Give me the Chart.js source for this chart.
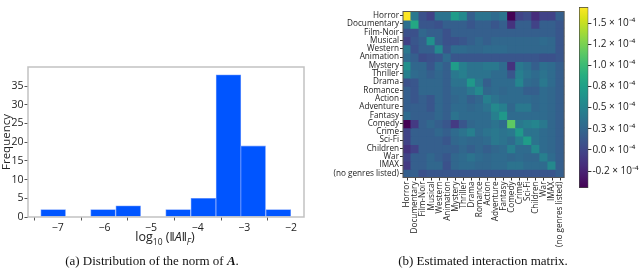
<!DOCTYPE html>
<html>
<head>
<meta charset="utf-8">
<script src="https://cdn.jsdelivr.net/npm/chart.js@4.4.1/dist/chart.umd.min.js"></script>
<style>
  body { margin: 0; width: 640px; height: 270px; position: relative; background: #fff; overflow: hidden; }
  canvas { position: absolute; }
  .cap { position: absolute; top: 253px; font-family: "Liberation Serif", serif; font-size: 13px; color: #111; white-space: nowrap; transform: translateX(-50%); }
  .xlab { position: absolute; left: 165px; top: 228px; font-family: "Open Sans", sans-serif; font-size: 12.5px; color: #222; white-space: nowrap; transform: translateX(-50%); }
  .xlab sub { font-size: 8.5px; }
</style>
</head>
<body>
<canvas id="histChart" width="310" height="250" style="left:0;top:0"></canvas>
<canvas id="heatChart" width="271" height="270" style="left:300px;top:0"></canvas>
<canvas id="cbarChart" width="68" height="200" style="left:572px;top:0"></canvas>
<div class="xlab">log<sub>10</sub> (‖<i>A</i>‖<sub><i>F</i></sub>)</div>
<div class="cap" style="left:152px">(a) Distribution of the norm of <b><i>A</i></b>.</div>
<div class="cap" style="left:483px">(b) Estimated interaction matrix.</div>
<script>
// histogram of log10 norms
const binCenters = [-7.10, -6.56, -6.03, -5.49, -4.95, -4.42, -3.88, -3.34, -2.81, -2.27];
const binCounts = [2, 0, 2, 3, 0, 2, 5, 38, 19, 2];
const histXTicks = [-7, -6, -5, -4, -3, -2];
const histYTicks = [0, 5, 10, 15, 20, 25, 30, 35];

// interaction matrix, units of 1e-4
const genres = ["Horror", "Documentary", "Film-Noir", "Musical", "Western", "Animation", "Mystery",
  "Thriller", "Drama", "Romance", "Action", "Adventure", "Fantasy", "Comedy", "Crime", "Sci-Fi",
  "Children", "War", "IMAX", "(no genres listed)"];
const interaction = [
  [1.69, 0.40, 0.08, -0.03, 0.36, 0.36, 0.72, 0.55, 0.19, 0.36, 0.36, 0.29, 0.36, -0.45, -0.03, 0.04, -0.18, -0.03, -0.03, 0.19],
  [0.33, 0.83, 0.12, 0.12, 0.08, 0.19, 0.19, 0.19, 0.12, 0.19, 0.19, 0.12, 0.19, -0.14, 0.19, 0.19, -0.03, 0.19, 0.19, 0.12],
  [0.08, 0.08, 0.25, 0.19, 0.19, 0.08, 0.19, 0.19, 0.19, 0.19, 0.19, 0.19, 0.19, 0.19, 0.19, 0.19, 0.19, 0.19, 0.19, 0.12],
  [-0.03, 0.12, 0.19, 0.61, 0.19, 0.08, 0.08, 0.12, 0.19, 0.25, 0.19, 0.25, 0.25, 0.25, 0.25, 0.25, 0.25, 0.29, 0.25, 0.12],
  [0.40, 0.08, 0.19, 0.19, 0.55, 0.12, 0.29, 0.29, 0.25, 0.25, 0.29, 0.29, 0.29, 0.25, 0.25, 0.25, 0.25, 0.25, 0.25, 0.12],
  [0.29, 0.19, 0.04, 0.08, 0.12, 0.29, 0.12, 0.12, 0.12, 0.12, 0.12, 0.12, 0.12, 0.12, 0.12, 0.12, 0.12, 0.08, 0.08, 0.12],
  [0.61, 0.25, 0.25, 0.12, 0.29, 0.19, 0.72, 0.46, 0.36, 0.36, 0.40, 0.40, 0.29, -0.14, 0.40, 0.33, 0.19, 0.33, 0.29, 0.19],
  [0.46, 0.29, 0.25, 0.19, 0.25, 0.19, 0.40, 0.46, 0.36, 0.36, 0.36, 0.29, 0.29, 0.12, 0.46, 0.36, 0.29, 0.36, 0.29, 0.19],
  [0.08, 0.12, 0.25, 0.25, 0.25, 0.19, 0.36, 0.36, 0.68, 0.40, 0.19, 0.29, 0.29, 0.29, 0.51, 0.29, 0.25, 0.40, 0.29, 0.19],
  [0.19, 0.12, 0.25, 0.25, 0.25, 0.19, 0.29, 0.29, 0.40, 0.55, 0.25, 0.29, 0.25, 0.29, 0.29, 0.19, 0.19, 0.29, 0.25, 0.19],
  [0.19, 0.12, 0.19, 0.12, 0.25, 0.19, 0.25, 0.29, 0.19, 0.25, 0.46, 0.36, 0.29, 0.29, 0.29, 0.29, 0.25, 0.29, 0.25, 0.19],
  [0.19, 0.19, 0.19, 0.12, 0.25, 0.19, 0.29, 0.29, 0.25, 0.29, 0.36, 0.55, 0.46, 0.25, 0.40, 0.40, 0.25, 0.29, 0.25, 0.19],
  [0.29, 0.19, 0.19, 0.19, 0.25, 0.19, 0.36, 0.29, 0.29, 0.29, 0.29, 0.46, 0.68, 0.29, 0.29, 0.29, 0.29, 0.29, 0.25, 0.19],
  [-0.45, -0.09, 0.19, 0.25, 0.19, 0.12, -0.09, 0.12, 0.25, 0.29, 0.29, 0.36, 0.29, 1.15, 0.40, 0.46, 0.51, 0.40, 0.25, 0.19],
  [-0.03, 0.19, 0.19, 0.19, 0.25, 0.19, 0.29, 0.36, 0.46, 0.29, 0.36, 0.40, 0.36, 0.40, 0.68, 0.36, 0.36, 0.29, 0.25, 0.19],
  [-0.03, 0.19, 0.19, 0.19, 0.19, 0.12, 0.25, 0.29, 0.25, 0.25, 0.29, 0.40, 0.36, 0.29, 0.46, 0.72, 0.36, 0.29, 0.25, 0.19],
  [-0.14, -0.03, 0.19, 0.19, 0.19, 0.19, 0.19, 0.25, 0.19, 0.25, 0.19, 0.25, 0.29, 0.46, 0.29, 0.29, 0.55, 0.29, 0.25, 0.19],
  [-0.03, 0.19, 0.19, 0.25, 0.19, 0.12, 0.25, 0.29, 0.36, 0.29, 0.25, 0.29, 0.29, 0.25, 0.29, 0.25, 0.25, 0.46, 0.29, 0.19],
  [-0.09, 0.19, 0.19, 0.25, 0.25, 0.08, 0.25, 0.29, 0.29, 0.25, 0.25, 0.29, 0.29, 0.36, 0.36, 0.29, 0.29, 0.29, 0.55, 0.19],
  [0.19, 0.19, 0.08, 0.12, 0.12, 0.12, 0.12, 0.12, 0.12, 0.12, 0.12, 0.12, 0.12, 0.12, 0.12, 0.12, 0.12, 0.12, 0.12, 0.19]
];
const cbarTicks = [-0.25, 0, 0.25, 0.5, 0.75, 1.0, 1.25, 1.5];
const cbarLabels = ["-0.2", "0.0", "0.3", "0.5", "0.8", "1.0", "1.2", "1.5"];

const VIRIDIS = ["#440154", "#48186a", "#472d7b", "#424086", "#3b528b", "#33638d", "#2c728e", "#26828e",
  "#21918c", "#1fa088", "#28ae80", "#3fbc73", "#5ec962", "#84d44b", "#addc30", "#d8e219", "#fde725"];

function hexRgb(h) {
  return [1, 3, 5].map(i => parseInt(h.slice(i, i + 2), 16));
}
function viridis(t) {
  t = Math.min(1, Math.max(0, t));
  const n = VIRIDIS.length - 1;
  const i = Math.min(n - 1, Math.floor(t * n));
  const f = t * n - i;
  const a = hexRgb(VIRIDIS[i]), b = hexRgb(VIRIDIS[i + 1]);
  const c = a.map((v, k) => Math.round(v + (b[k] - v) * f));
  return `rgb(${c[0]},${c[1]},${c[2]})`;
}

const flat = interaction.flat();
const vmin = Math.min(...flat);
const vmax = Math.max(...flat);

Chart.defaults.font.family = "'Open Sans', sans-serif";
Chart.defaults.color = "#222";
Chart.defaults.animation = false;
Chart.defaults.responsive = false;
Chart.defaults.plugins.legend.display = false;
Chart.defaults.plugins.tooltip.enabled = false;

const framePlugin = {
  id: "frame",
  afterDatasetsDraw(chart, args, opts) {
    const { ctx, chartArea: a } = chart;
    ctx.save();
    ctx.strokeStyle = opts.color;
    ctx.lineWidth = opts.width;
    ctx.strokeRect(a.left, a.top, a.right - a.left, a.bottom - a.top);
    ctx.restore();
  }
};

// (a) histogram
new Chart(document.getElementById("histChart"), {
  type: "bar",
  data: {
    datasets: [{
      data: binCenters.map((x, i) => ({ x: x, y: binCounts[i] })),
      backgroundColor: "#0055ff",
      borderColor: "#6f9bff",
      borderWidth: 0.8,
      borderSkipped: "bottom",
      barPercentage: 1,
      categoryPercentage: 1
    }]
  },
  options: {
    layout: { padding: { top: 67, right: 6, left: 0, bottom: 0 } },
    plugins: { frame: { color: "#c2c2c2", width: 1.5 } },
    scales: {
      x: {
        type: "linear", min: -7.64, max: -1.72, offset: false,
        afterBuildTicks: a => { a.ticks = histXTicks.map(v => ({ value: v })); },
        afterFit: a => { a.height = 33; },
        ticks: { font: { size: 10.5 }, padding: 1, callback: v => String(v).replace("-", "\u2212") },
        grid: { drawOnChartArea: false, tickLength: 3.5, color: "#555" },
        border: { display: false }
      },
      y: {
        min: 0, max: 40.1,
        afterBuildTicks: a => { a.ticks = histYTicks.map(v => ({ value: v })); },
        afterFit: a => { a.width = 28; },
        ticks: { font: { size: 10.5 }, padding: 1 },
        grid: { drawOnChartArea: false, tickLength: 3.5, color: "#555" },
        border: { display: false },
        title: { display: true, text: "Frequency", font: { size: 11.5 }, padding: { top: 0, bottom: 0 } }
      }
    }
  },
  plugins: [framePlugin]
});

// (b) heatmap: one stacked dataset per row
new Chart(document.getElementById("heatChart"), {
  type: "bar",
  data: {
    labels: genres,
    datasets: interaction.map(row => ({
      data: row.map(() => 1),
      backgroundColor: row.map(v => viridis((v - vmin) / (vmax - vmin))),
      borderWidth: 0,
      inflateAmount: 0.6,
      barPercentage: 1,
      categoryPercentage: 1
    }))
  },
  options: {
    layout: { padding: { top: 11.5, right: 2, left: 0, bottom: 0 } },
    plugins: { frame: { color: "#555", width: 1 } },
    scales: {
      x: {
        stacked: true,
        afterFit: a => { a.height = 92.5; },
        ticks: { font: { size: 8.2 }, minRotation: 90, maxRotation: 90, autoSkip: false, padding: 1 },
        grid: { offset: false, drawOnChartArea: false, tickLength: 3, color: "#333" },
        border: { display: false }
      },
      y: {
        stacked: true, reverse: true, min: 0, max: genres.length,
        afterBuildTicks: a => { a.ticks = genres.map((g, i) => ({ value: i + 0.5 })); },
        afterFit: a => { a.width = 103; },
        ticks: { font: { size: 8.2 }, autoSkip: false, padding: 1, callback: v => genres[Math.floor(v)] },
        grid: { drawOnChartArea: false, tickLength: 3, color: "#333" },
        border: { display: false }
      }
    }
  },
  plugins: [framePlugin]
});

// colorbar
new Chart(document.getElementById("cbarChart"), {
  type: "bar",
  data: {
    labels: [""],
    datasets: [{
      data: [[vmin, vmax]],
      backgroundColor: c => {
        const area = c.chart.chartArea;
        if (!area) return VIRIDIS[8];
        const g = c.chart.ctx.createLinearGradient(0, area.bottom, 0, area.top);
        VIRIDIS.forEach((col, i) => g.addColorStop(i / (VIRIDIS.length - 1), col));
        return g;
      },
      borderColor: "#444",
      borderWidth: 1,
      borderSkipped: false,
      barPercentage: 1,
      categoryPercentage: 1
    }]
  },
  options: {
    layout: { padding: { top: 1, left: 7, right: 0, bottom: 12 } },
    scales: {
      x: { display: false },
      y: {
        position: "right", min: vmin, max: vmax,
        afterBuildTicks: a => { a.ticks = cbarTicks.map(v => ({ value: v })); },
        afterFit: a => { a.width = 51.6; },
        ticks: { font: { size: 10 }, padding: 1, callback: (v, i) => cbarLabels[i] + " \u00d7 10\u207b\u2074" },
        grid: { drawOnChartArea: false, tickLength: 3, color: "#333" },
        border: { display: false }
      }
    }
  }
});
</script>
</body>
</html>
